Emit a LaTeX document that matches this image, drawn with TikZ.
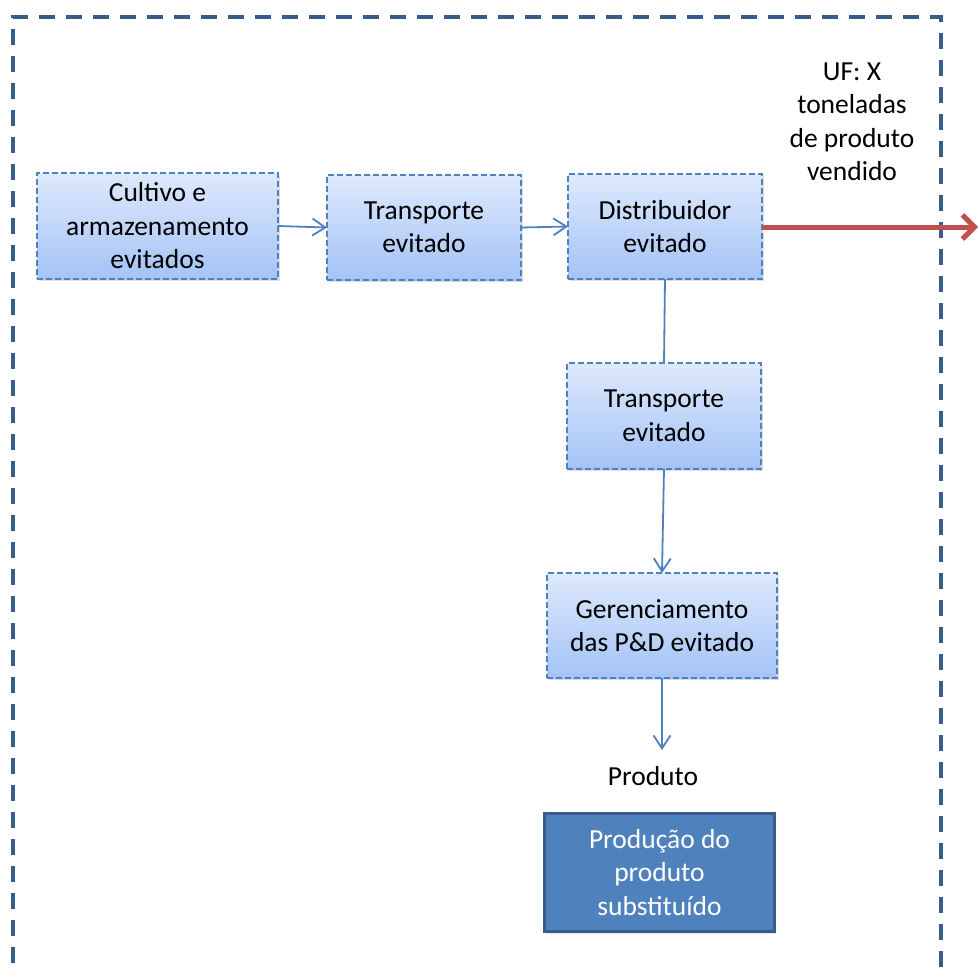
\documentclass[tikz,border=0pt]{standalone}
\usepackage{fontspec}
\setmainfont{Carlito}
\usetikzlibrary{arrows.meta,shadows}
\definecolor{frameblue}{RGB}{56,93,138}
\definecolor{boxborder}{RGB}{79,129,189}
\definecolor{boxtop}{RGB}{222,233,252}
\definecolor{boxbot}{RGB}{164,195,246}
\definecolor{darkfill}{RGB}{79,129,189}
\definecolor{darkborder}{RGB}{56,93,138}
\definecolor{redarrow}{RGB}{192,80,77}
\tikzset{
  procbox/.style={draw=boxborder, line width=1.5pt, dash pattern=on 6pt off 3pt,
    top color=boxtop, bottom color=boxbot, align=center, inner sep=0pt, outer sep=0pt,
    drop shadow={opacity=0.25, shadow xshift=1.5pt, shadow yshift=-2pt},
    font=\fontsize{27.5}{33.5}\selectfont},
  subbox/.style={draw=darkborder, line width=3pt, fill=darkfill, text=white,
    align=center, inner sep=0pt, outer sep=0pt,
    drop shadow={opacity=0.2, shadow xshift=1.5pt, shadow yshift=-2pt},
    font=\fontsize{27.5}{33.5}\selectfont},
  plain/.style={align=center, inner sep=0pt, font=\fontsize{27.5}{33.5}\selectfont},
  conn/.style={draw=boxborder, line width=1.8pt},
  connarrow/.style={conn, -{Straight Barb[length=13pt,width=17pt,line width=1.8pt]}},
  redconn/.style={draw=redarrow, line width=5pt, -{Straight Barb[length=12pt,width=24pt,line width=5pt]}},
  frame/.style={draw=frameblue, line width=4pt, dash pattern=on 16pt off 11pt}
}
\begin{document}
\begin{tikzpicture}[x=1pt,y=-1pt]
\useasboundingbox (0,0) rectangle (978,967);
\begin{scope}
\clip (0,0) rectangle (978,967);
\draw[frame] (13,990) -- (13,17) -- (941,17) -- (941,990);

\node[procbox, minimum width=241pt, minimum height=106pt] (b1) at (157.5,226) {Cultivo e\\armazenamento\\evitados};
\node[procbox, minimum width=194pt, minimum height=105pt] (b2) at (424,227.5) {Transporte\\evitado};
\node[procbox, minimum width=194pt, minimum height=105pt] (b3) at (665,226.5) {Distribuidor\\evitado};
\node[procbox, minimum width=194pt, minimum height=106pt] (b4) at (664,416) {Transporte\\evitado};
\node[procbox, minimum width=230pt, minimum height=105pt] (b5) at (662,625.5) {Gerenciamento\\das P\&D evitado};
\node[plain] (prod) at (653,776) {Produto};
\node[subbox, minimum width=230pt, minimum height=118pt] (b6) at (659.5,872.5) {Produção do\\produto\\substituído};
\node[plain] (uf) at (852,122) {UF: X\\toneladas\\de produto\\vendido};

\coordinate (redend) at (978,227);
\coordinate (prodtip) at (662,750);

\draw[connarrow] (b1.east) -- (b2.west);
\draw[connarrow] (b2.east) -- (b3.west);
\draw[conn] (b3.south) -- (b4.north);
\draw[connarrow] (b4.south) -- (b5.north);
\draw[connarrow] (b5.south) -- (prodtip);
\draw[redconn] (b3.east |- redend) -- (redend);
\end{scope}
\end{tikzpicture}
\end{document}
